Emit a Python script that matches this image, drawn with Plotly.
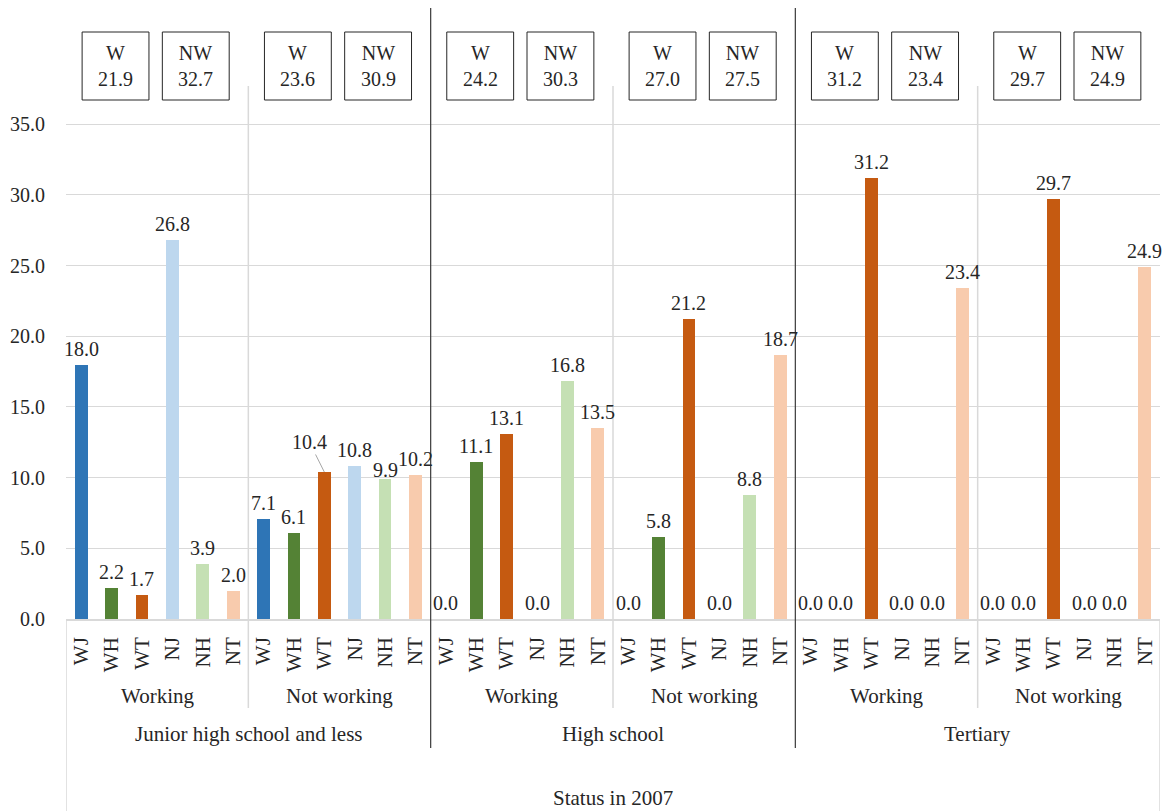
import plotly.graph_objects as go

# Series codes and bar colours
series = ["WJ", "WH", "WT", "NJ", "NH", "NT"]
colors = ["#2E75B6", "#548235", "#C55A11", "#BDD7EE", "#C5E0B4", "#F8CBAD"]

# Sub-groups (status in 2007) and education groups
status = ["Working", "Not working"]
education = ["Junior high school and less", "High school", "Tertiary"]

# Values per series, one entry per (education, status) sub-group
WJ = [18.0, 7.1, 0.0, 0.0, 0.0, 0.0]
WH = [2.2, 6.1, 11.1, 5.8, 0.0, 0.0]
WT = [1.7, 10.4, 13.1, 21.2, 31.2, 29.7]
NJ = [26.8, 10.8, 0.0, 0.0, 0.0, 0.0]
NH = [3.9, 9.9, 16.8, 8.8, 0.0, 0.0]
NT = [2.0, 10.2, 13.5, 18.7, 23.4, 24.9]
values = [WJ, WH, WT, NJ, NH, NT]

# Totals shown in the boxes above each sub-group
W_total = [21.9, 23.6, 24.2, 27.0, 31.2, 29.7]
NW_total = [32.7, 30.9, 30.3, 27.5, 23.4, 24.9]

FONT = "Liberation Serif"
TXT = "#262626"
GRID = "#D9D9D9"
DARK = "#3A3A3A"

W, H = 1163, 811
ML, MR, MT, MB = 66, 3, 86, 192
PLOT_H = H - MT - MB
Y_TOP = 37.7


def py(pixel_y):
    """Convert a page pixel row to a paper y coordinate."""
    return (H - MB - pixel_y) / PLOT_H


def tfont(size=20):
    return dict(family=FONT, size=size, color=TXT)


n_sub = len(W_total)
n_ser = len(series)

fig = go.Figure()
for s, name in enumerate(series):
    xs = [g * n_ser + s for g in range(n_sub)]
    fig.add_trace(go.Bar(
        x=xs, y=values[s], name=name, width=0.42,
        marker=dict(color=colors[s], line=dict(width=0)),
        showlegend=False, hoverinfo="skip",
    ))

annotations = []
# Value labels above bars
for s in range(n_ser):
    for g in range(n_sub):
        v = values[s][g]
        x = g * n_ser + s
        label = f"{v:.1f}"
        if (s, g) == (2, 1):
            # label pulled aside with a leader line
            annotations.append(dict(
                x=x, y=v, text=label, showarrow=True, arrowhead=0,
                arrowwidth=1, arrowcolor="#A6A6A6", ax=-15, ay=-30,
                font=tfont(),
            ))
            continue
        shift = 3
        if (s, g) == (4, 1):
            shift = -4
        annotations.append(dict(
            x=x, y=v, text=label, showarrow=False, yanchor="bottom",
            xanchor="center", yshift=shift, font=tfont(),
        ))

shapes = []
# Boxes with W / NW totals
box_top, box_bot = py(32), py(100)
for g in range(n_sub):
    c = g * n_ser + 2.5
    for (x0, x1), lab, val in (((c - 2.47, c - 0.27), "W", W_total[g]),
                               ((c + 0.17, c + 2.37), "NW", NW_total[g])):
        shapes.append(dict(type="rect", xref="x", yref="paper",
                           x0=x0, x1=x1, y0=box_bot, y1=box_top,
                           line=dict(color=TXT, width=1), fillcolor="white"))
        annotations.append(dict(
            x=(x0 + x1) / 2, y=(box_top + box_bot) / 2, xref="x", yref="paper",
            text=f"{lab}<br>{val:.1f}", showarrow=False, align="center",
            xanchor="center", yanchor="middle", font=tfont(),
        ))

# Status separators (light) and education separators (dark)
for g in range(0, n_sub, 2):
    xb = g * n_ser + n_ser - 0.5
    shapes.append(dict(type="line", xref="x", yref="paper",
                       x0=xb, x1=xb, y0=py(708), y1=1,
                       line=dict(color=GRID, width=1.5)))
for e in range(1, len(education)):
    xb = e * 2 * n_ser - 0.5
    shapes.append(dict(type="line", xref="x", yref="paper",
                       x0=xb, x1=xb, y0=py(748), y1=py(8),
                       line=dict(color=DARK, width=1.2)))
# Outer borders of the category axis area
for xb in (-0.5, n_sub * n_ser - 0.5):
    shapes.append(dict(type="line", xref="x", yref="paper",
                       x0=xb, x1=xb, y0=py(811), y1=0,
                       line=dict(color=GRID, width=1.5)))

# Status and education labels under the axis
for g in range(n_sub):
    annotations.append(dict(
        x=g * n_ser + 2.5, y=py(696), xref="x", yref="paper",
        text=status[g % 2], showarrow=False, yanchor="middle",
        xanchor="center", font=tfont(21),
    ))
for e, name in enumerate(education):
    annotations.append(dict(
        x=e * 2 * n_ser + n_ser - 0.5, y=py(734), xref="x", yref="paper",
        text=name, showarrow=False, yanchor="middle",
        xanchor="center", font=tfont(21),
    ))
annotations.append(dict(
    x=(n_sub * n_ser - 1) / 2, y=py(798), xref="x", yref="paper",
    text="Status in 2007", showarrow=False, yanchor="middle",
    xanchor="center", font=tfont(21),
))

fig.update_layout(
    width=W, height=H,
    margin=dict(l=ML, r=MR, t=MT, b=MB, pad=0),
    plot_bgcolor="white", paper_bgcolor="white",
    barmode="overlay", bargap=0,
    font=tfont(),
    shapes=shapes, annotations=annotations,
    xaxis=dict(
        range=[-0.5, n_sub * n_ser - 0.5],
        tickvals=list(range(n_sub * n_ser)),
        ticktext=[series[i % n_ser] for i in range(n_sub * n_ser)],
        tickangle=-90, ticks="", ticklabelstandoff=8,
        showgrid=False, zeroline=False,
        showline=True, linecolor=GRID, linewidth=1.5,
        tickfont=tfont(21), fixedrange=True,
    ),
    yaxis=dict(
        range=[0, Y_TOP], dtick=5, tick0=0, tickformat=".1f",
        showgrid=True, gridcolor=GRID, gridwidth=1.2,
        zeroline=False, showline=False, ticks="",
        ticklabelstandoff=20,
        tickfont=tfont(), fixedrange=True,
    ),
)

fig.write_html("out.html")
